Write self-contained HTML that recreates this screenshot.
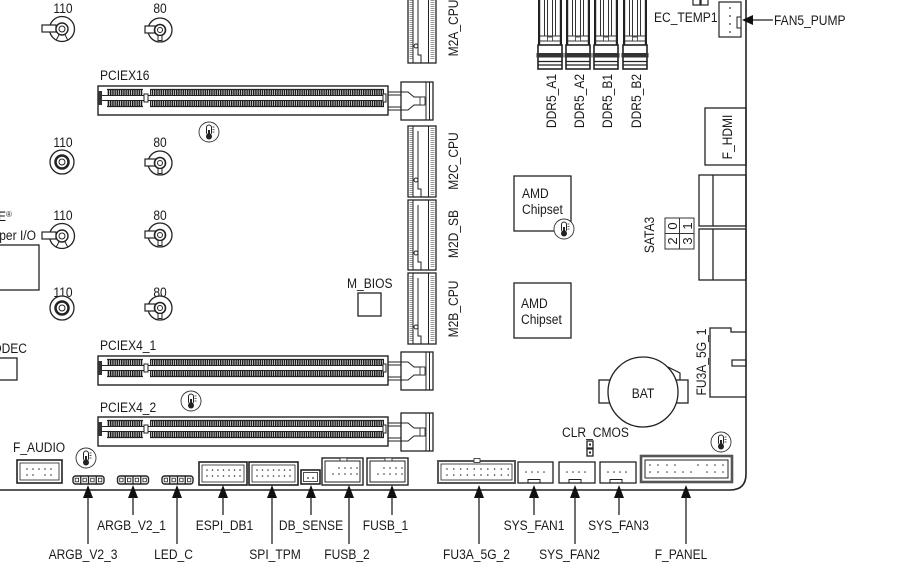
<!DOCTYPE html>
<html><head><meta charset="utf-8"><style>
html,body{margin:0;padding:0;background:#fff;}
svg{display:block}
text{font-family:"Liberation Sans",Arial,sans-serif;font-size:14px;fill:#1a1a1a}
</style></head><body>
<svg width="902" height="582" viewBox="0 0 902 582" xmlns="http://www.w3.org/2000/svg">
<defs>
<pattern id="pins" width="2.2" height="8" patternUnits="userSpaceOnUse"><rect width="1.5" height="8" fill="#1a1a1a"/></pattern>
<pattern id="mp" width="4" height="2" patternUnits="userSpaceOnUse"><rect width="4" height="1" fill="#999"/></pattern>
<g id="pcie">
 <rect x="98" y="0" width="290" height="29" fill="#fff" stroke="#222" stroke-width="1.4"/>
 <rect x="107" y="3" width="36" height="6" fill="url(#pins)"/>
 <rect x="150" y="3" width="234" height="6" fill="url(#pins)"/>
 <rect x="107" y="15" width="36" height="6" fill="url(#pins)"/>
 <rect x="150" y="15" width="234" height="6" fill="url(#pins)"/>
 <path d="M107 3.5H143 M150 3.5H384 M107 20.5H143 M150 20.5H384" stroke="#222" stroke-width="1.2"/>
 <rect x="101" y="9.5" width="284" height="5" fill="#fff" stroke="#222" stroke-width="1"/>
 <rect x="98" y="5" width="4" height="14" fill="#333"/>
 <rect x="144" y="8" width="4" height="8" fill="#fff" stroke="#222" stroke-width="1"/>
 <rect x="383" y="8" width="3" height="8" fill="#fff" stroke="#222" stroke-width="1"/>
 <path d="M388 6H408L414 11H425 M388 24H408L414 19H425 M388 9H401 M388 21H401" fill="none" stroke="#222" stroke-width="1"/>
 <rect x="420" y="11" width="5" height="8" fill="#fff" stroke="#222" stroke-width="0.8"/>
 <rect x="401" y="-4" width="32" height="38" fill="none" stroke="#222" stroke-width="1.3"/>
 <path d="M426 -4V34 M429.5 -4V34" stroke="#222" stroke-width="1"/>
</g>
<g id="sa">
 <circle r="12.5" fill="#fff" stroke="#222" stroke-width="1.3"/>
 <path d="M0 0L-6 11.5 M0 0L6 11.5" stroke="#222" fill="none" stroke-width="1"/>
 <rect x="-20" y="-4" width="14" height="7" fill="#fff" stroke="#222" stroke-width="1.2"/>
 <circle r="6" fill="#fff" stroke="#222" stroke-width="1.4"/>
 <circle r="3" fill="none" stroke="#222" stroke-width="1"/>
</g>
<g id="sb">
 <circle r="12" fill="#fff" stroke="#222" stroke-width="1.3"/>
 <rect x="-15" y="-4" width="11" height="7" fill="#fff" stroke="#222" stroke-width="1.2"/>
 <circle r="5.5" fill="#fff" stroke="#222" stroke-width="1.6"/>
 <circle r="2.5" fill="none" stroke="#222" stroke-width="1"/>
 <rect x="-2" y="5.5" width="4" height="5" fill="#fff" stroke="#222" stroke-width="1"/>
</g>
<g id="sc">
 <circle r="12" fill="#fff" stroke="#222" stroke-width="1.3"/>
 <circle r="6.5" fill="none" stroke="#222" stroke-width="2.5"/>
 <circle r="3" fill="none" stroke="#222" stroke-width="1"/>
</g>
<g id="th">
 <circle r="10" fill="#fff" stroke="#333" stroke-width="0.9"/>
 <rect x="-2.5" y="-7" width="5" height="10" rx="2.5" fill="#fff" stroke="#222" stroke-width="1"/>
 <rect x="-1" y="-2" width="2" height="6" fill="#222"/>
 <circle cy="4.5" r="3" fill="#222"/>
 <path d="M3.5 -5h2 M3.5 -2.5h2 M3.5 0h2" stroke="#222" stroke-width="0.8"/>
</g>
<g id="ddr">
 <rect x="0" y="-2" width="2.2" height="47" fill="#222"/>
 <rect x="21.8" y="-2" width="2.2" height="47" fill="#222"/>
 <path d="M6.5 -2V36 M9.5 -2V36 M14.5 -2V36 M17.5 -2V36" stroke="#333" stroke-width="1"/>
 <path d="M2 36H22 M2 41H22" stroke="#333" stroke-width="1"/>
 <rect x="9.5" y="37" width="5" height="4" fill="#fff" stroke="#333" stroke-width="0.8"/>
 <rect x="0" y="45" width="24" height="24" fill="#fff" stroke="#222" stroke-width="1.6"/>
 <rect x="-1.5" y="53" width="27" height="4.5" fill="#333"/>
 <path d="M0 61.5H24 M0 65H24" stroke="#222" stroke-width="1.2"/>
</g>
<g id="argb">
 <rect x="0" y="0" width="31" height="8" rx="2.5" fill="#fff" stroke="#222" stroke-width="1.4"/>
 <path d="M7.75 0V8 M15.5 0V8 M23.25 0V8" stroke="#222" stroke-width="1.3"/>
 <rect x="2.2" y="2.2" width="3.4" height="3.6" fill="#fff" stroke="#222" stroke-width="0.8"/>
 <rect x="9.95" y="2.2" width="3.4" height="3.6" fill="#fff" stroke="#222" stroke-width="0.8"/>
 <rect x="17.7" y="2.2" width="3.4" height="3.6" fill="#fff" stroke="#222" stroke-width="0.8"/>
 <rect x="25.45" y="2.2" width="3.4" height="3.6" fill="#fff" stroke="#222" stroke-width="0.8"/>
</g>
</defs>

<!-- board outline -->
<path d="M746 0V474Q746 490 730 490H0" fill="none" stroke="#222" stroke-width="1.6"/>

<!-- standoffs -->
<text transform="translate(63,13) scale(0.86,1)" text-anchor="middle">110</text>
<text transform="translate(160,13) scale(0.86,1)" text-anchor="middle">80</text>
<use href="#sa" x="62" y="29"/>
<use href="#sb" x="160" y="30"/>
<text transform="translate(63,147) scale(0.86,1)" text-anchor="middle">110</text>
<text transform="translate(160,147) scale(0.86,1)" text-anchor="middle">80</text>
<use href="#sc" x="62" y="162"/>
<use href="#sb" x="160" y="163"/>
<text transform="translate(63,220) scale(0.86,1)" text-anchor="middle">110</text>
<text transform="translate(160,220) scale(0.86,1)" text-anchor="middle">80</text>
<use href="#sa" x="62" y="236"/>
<use href="#sb" x="160" y="235"/>
<text transform="translate(63,297) scale(0.86,1)" text-anchor="middle">110</text>
<text transform="translate(160,297) scale(0.86,1)" text-anchor="middle">80</text>
<use href="#sc" x="62" y="308"/>
<use href="#sb" x="160" y="308"/>

<!-- super IO / codec -->
<text transform="translate(6,221) scale(0.86,1)" text-anchor="end">ITE</text>
<text x="6" y="217" style="font-size:8px">®</text>
<text transform="translate(36,240) scale(0.86,1)" text-anchor="end">Super I/O</text>
<rect x="-2" y="245" width="41" height="45" fill="none" stroke="#222" stroke-width="1.3"/>
<text transform="translate(27,353) scale(0.86,1)" text-anchor="end">CODEC</text>
<rect x="-2" y="358" width="19" height="22" fill="none" stroke="#222" stroke-width="1.3"/>

<!-- PCIe slots -->
<text transform="translate(100,80) scale(0.86,1)">PCIEX16</text>
<use href="#pcie" y="86"/>
<text transform="translate(100,350) scale(0.86,1)">PCIEX4_1</text>
<use href="#pcie" y="356"/>
<text transform="translate(100,412) scale(0.86,1)">PCIEX4_2</text>
<use href="#pcie" y="417"/>

<!-- thermal icons -->
<use href="#th" x="209" y="132"/>
<use href="#th" x="191" y="401"/>
<use href="#th" x="86" y="458"/>
<use href="#th" x="721" y="442"/>

<!-- M.2 slots -->
<g stroke="#222" fill="none">
 <rect x="408" y="-5" width="28" height="68" stroke-width="1.3"/>
 <rect x="409.5" y="-3" width="3" height="62" fill="url(#mp)" stroke="none"/>
 <rect x="430.5" y="-3" width="4" height="62" fill="url(#mp)" stroke="none"/>
 <path d="M413 -5V63 M428.5 -5V63 M418 0V55H421V63" stroke-width="1"/>
 <circle cx="416" cy="46" r="2" stroke-width="1"/>

 <rect x="408" y="126" width="28" height="71" stroke-width="1.3"/>
 <rect x="409.5" y="128" width="3" height="67" fill="url(#mp)" stroke="none"/>
 <rect x="430.5" y="128" width="4" height="67" fill="url(#mp)" stroke="none"/>
 <path d="M413 126V197 M428.5 126V197 M418 131V189H421V197" stroke-width="1"/>
 <circle cx="416" cy="180" r="2" stroke-width="1"/>

 <rect x="408" y="200" width="28" height="70" stroke-width="1.3"/>
 <rect x="409.5" y="202" width="3" height="66" fill="url(#mp)" stroke="none"/>
 <rect x="430.5" y="202" width="4" height="66" fill="url(#mp)" stroke="none"/>
 <path d="M413 200V270 M428.5 200V270 M418 205V262H421V270" stroke-width="1"/>
 <circle cx="416" cy="253" r="2" stroke-width="1"/>

 <rect x="408" y="273" width="28" height="71" stroke-width="1.3"/>
 <rect x="409.5" y="275" width="3" height="67" fill="url(#mp)" stroke="none"/>
 <rect x="430.5" y="275" width="4" height="67" fill="url(#mp)" stroke="none"/>
 <path d="M413 273V344 M428.5 273V344 M418 278V336H421V344" stroke-width="1"/>
 <circle cx="416" cy="327" r="2" stroke-width="1"/>
</g>
<text transform="translate(458,28) rotate(-90) scale(0.86,1)" text-anchor="middle">M2A_CPU</text>
<text transform="translate(458,161) rotate(-90) scale(0.86,1)" text-anchor="middle">M2C_CPU</text>
<text transform="translate(458,234) rotate(-90) scale(0.86,1)" text-anchor="middle">M2D_SB</text>
<text transform="translate(458,309) rotate(-90) scale(0.86,1)" text-anchor="middle">M2B_CPU</text>

<!-- M_BIOS -->
<text transform="translate(347,288) scale(0.86,1)">M_BIOS</text>
<rect x="358" y="293" width="23" height="23" fill="none" stroke="#222" stroke-width="1.3"/>

<!-- DDR -->
<use href="#ddr" x="538" y="0"/>
<use href="#ddr" x="566" y="0"/>
<use href="#ddr" x="594" y="0"/>
<use href="#ddr" x="623" y="0"/>
<text transform="translate(556,101) rotate(-90) scale(0.86,1)" text-anchor="middle">DDR5_A1</text>
<text transform="translate(584,101) rotate(-90) scale(0.86,1)" text-anchor="middle">DDR5_A2</text>
<text transform="translate(612,101) rotate(-90) scale(0.86,1)" text-anchor="middle">DDR5_B1</text>
<text transform="translate(641,101) rotate(-90) scale(0.86,1)" text-anchor="middle">DDR5_B2</text>

<!-- EC_TEMP1 / FAN5_PUMP -->
<rect x="693" y="-1" width="7" height="6" fill="none" stroke="#222" stroke-width="1.2"/>
<rect x="701" y="-1" width="7" height="6" fill="none" stroke="#222" stroke-width="1.2"/>
<text transform="translate(654,22) scale(0.86,1)">EC_TEMP1</text>
<rect x="719" y="2" width="22" height="35" fill="#fff" stroke="#222" stroke-width="1.2"/>
<g fill="#333"><circle cx="730" cy="8" r="0.9"/><circle cx="730" cy="16" r="0.9"/><circle cx="730" cy="24" r="0.9"/><circle cx="730" cy="32" r="0.9"/></g>
<rect x="737" y="17" width="4" height="11" fill="#fff" stroke="#222" stroke-width="1"/>
<polygon points="742,20 753,15 753,25" fill="#111"/>
<line x1="753" y1="20" x2="773" y2="20" stroke="#222" stroke-width="1.2"/>
<text transform="translate(774,25) scale(0.86,1)">FAN5_PUMP</text>

<!-- F_HDMI -->
<rect x="705" y="108" width="41" height="57" fill="none" stroke="#222" stroke-width="1.3"/>
<text transform="translate(732,137) rotate(-90) scale(0.86,1)" text-anchor="middle">F_HDMI</text>

<!-- Chipsets -->
<rect x="514" y="176" width="57" height="55" fill="#fff" stroke="#222" stroke-width="1.3"/>
<text transform="translate(522,198) scale(0.86,1)">AMD</text>
<text transform="translate(522,214) scale(0.86,1)">Chipset</text>
<use href="#th" x="564" y="229"/>
<rect x="514" y="283" width="57" height="55" fill="#fff" stroke="#222" stroke-width="1.3"/>
<text transform="translate(521,308) scale(0.86,1)">AMD</text>
<text transform="translate(521,324) scale(0.86,1)">Chipset</text>

<!-- SATA -->
<text transform="translate(654,235) rotate(-90) scale(0.86,1)" text-anchor="middle">SATA3</text>
<rect x="665" y="218" width="29" height="31" fill="none" stroke="#333" stroke-width="1"/>
<path d="M679.5 218V249 M665 233.5H694" stroke="#333" stroke-width="1"/>
<text transform="translate(677,226) rotate(-90)" text-anchor="middle" style="font-size:13px">0</text>
<text transform="translate(692,226) rotate(-90)" text-anchor="middle" style="font-size:13px">1</text>
<text transform="translate(677,241) rotate(-90)" text-anchor="middle" style="font-size:13px">2</text>
<text transform="translate(692,241) rotate(-90)" text-anchor="middle" style="font-size:13px">3</text>
<rect x="699" y="175" width="47" height="51" fill="none" stroke="#222" stroke-width="1.3"/>
<line x1="713" y1="175" x2="713" y2="226" stroke="#222" stroke-width="1.3"/>
<rect x="699" y="229" width="47" height="51" fill="none" stroke="#222" stroke-width="1.3"/>
<line x1="713" y1="229" x2="713" y2="280" stroke="#222" stroke-width="1.3"/>

<!-- FU3A_5G_1 -->
<path d="M746 332H731V328H710V397H746" fill="none" stroke="#222" stroke-width="1.3"/>
<rect x="732" y="360" width="14" height="6" fill="none" stroke="#222" stroke-width="1.2"/>
<text transform="translate(706,362) rotate(-90) scale(0.86,1)" text-anchor="middle">FU3A_5G_1</text>

<!-- BAT -->
<rect x="599" y="380" width="12" height="23" fill="#fff" stroke="#222" stroke-width="1.3"/>
<path d="M668 367L680 373V380" fill="none" stroke="#222" stroke-width="1.2"/>
<rect x="675" y="380" width="13" height="23" fill="#fff" stroke="#222" stroke-width="1.3"/>
<circle cx="643" cy="392" r="35" fill="#fff" stroke="#222" stroke-width="1.3"/>
<text transform="translate(643,398) scale(0.86,1)" text-anchor="middle">BAT</text>

<!-- CLR_CMOS -->
<text transform="translate(562,437) scale(0.86,1)">CLR_CMOS</text>
<rect x="587" y="441" width="6" height="7" fill="#fff" stroke="#222" stroke-width="1.3"/>
<rect x="587" y="449" width="6" height="7" fill="#fff" stroke="#222" stroke-width="1.3"/>
<rect x="589" y="443.5" width="2" height="2" fill="#222"/>
<rect x="589" y="451.5" width="2" height="2" fill="#222"/>

<!-- Bottom headers -->
<text transform="translate(13,452) scale(0.86,1)">F_AUDIO</text>
<rect x="17" y="460" width="45" height="23" fill="#fff" stroke="#222" stroke-width="1.6"/>
<rect x="20" y="463" width="39" height="17" fill="none" stroke="#222" stroke-width="0.8"/>
<g fill="#333">
 <circle cx="27" cy="469" r="0.8"/><circle cx="33" cy="469" r="0.8"/><circle cx="39" cy="469" r="0.8"/><circle cx="45" cy="469" r="0.8"/><circle cx="51" cy="469" r="0.8"/>
 <circle cx="27" cy="475" r="0.8"/><circle cx="33" cy="475" r="0.8"/><circle cx="45" cy="475" r="0.8"/><circle cx="51" cy="475" r="0.8"/>
</g>

<use href="#argb" x="73" y="476"/>
<use href="#argb" x="117.5" y="476"/>
<use href="#argb" x="162" y="476"/>

<!-- ESPI_DB1 -->
<rect x="199" y="462" width="48" height="23" fill="#fff" stroke="#222" stroke-width="1.6"/>
<rect x="202" y="465" width="42" height="17" fill="none" stroke="#222" stroke-width="0.8"/>
<!-- SPI_TPM -->
<rect x="249" y="462" width="49" height="23" fill="#fff" stroke="#222" stroke-width="1.6"/>
<rect x="252" y="465" width="43" height="17" fill="none" stroke="#222" stroke-width="0.8"/>
<g fill="#333">
 <circle cx="207" cy="470" r="0.8"/><circle cx="212.5" cy="470" r="0.8"/><circle cx="218" cy="470" r="0.8"/><circle cx="223.5" cy="470" r="0.8"/><circle cx="229" cy="470" r="0.8"/><circle cx="234.5" cy="470" r="0.8"/><circle cx="240" cy="470" r="0.8"/>
 <circle cx="207" cy="476" r="0.8"/><circle cx="212.5" cy="476" r="0.8"/><circle cx="218" cy="476" r="0.8"/><circle cx="223.5" cy="476" r="0.8"/><circle cx="229" cy="476" r="0.8"/><circle cx="234.5" cy="476" r="0.8"/><circle cx="240" cy="476" r="0.8"/>
 <circle cx="257" cy="470" r="0.8"/><circle cx="262.5" cy="470" r="0.8"/><circle cx="268" cy="470" r="0.8"/><circle cx="273.5" cy="470" r="0.8"/><circle cx="279" cy="470" r="0.8"/><circle cx="284.5" cy="470" r="0.8"/><circle cx="290" cy="470" r="0.8"/>
 <circle cx="257" cy="476" r="0.8"/><circle cx="262.5" cy="476" r="0.8"/><circle cx="268" cy="476" r="0.8"/><circle cx="273.5" cy="476" r="0.8"/><circle cx="279" cy="476" r="0.8"/><circle cx="284.5" cy="476" r="0.8"/><circle cx="290" cy="476" r="0.8"/>
</g>
<!-- DB_SENSE -->
<rect x="301" y="470" width="19" height="14" fill="#fff" stroke="#222" stroke-width="1.6"/>
<rect x="303.5" y="472.5" width="14" height="9" fill="none" stroke="#222" stroke-width="0.8"/>
<circle cx="308" cy="478" r="0.9" fill="#333"/><circle cx="313" cy="478" r="0.9" fill="#333"/>
<!-- FUSB_2 / FUSB_1 -->
<rect x="322" y="458" width="41" height="27" fill="#fff" stroke="#222" stroke-width="1.4"/>
<rect x="325" y="461" width="35" height="21" fill="none" stroke="#222" stroke-width="1"/>
<rect x="340" y="458" width="7" height="3" fill="#fff" stroke="#222" stroke-width="0.8"/>
<rect x="367" y="458" width="41" height="27" fill="#fff" stroke="#222" stroke-width="1.4"/>
<rect x="370" y="461" width="35" height="21" fill="none" stroke="#222" stroke-width="1"/>
<rect x="385" y="458" width="7" height="3" fill="#fff" stroke="#222" stroke-width="0.8"/>
<g fill="#333">
 <circle cx="339" cy="468" r="0.8"/><circle cx="345" cy="468" r="0.8"/><circle cx="351" cy="468" r="0.8"/><circle cx="357" cy="468" r="0.8"/>
 <circle cx="333" cy="474" r="0.8"/><circle cx="339" cy="474" r="0.8"/><circle cx="345" cy="474" r="0.8"/><circle cx="351" cy="474" r="0.8"/><circle cx="357" cy="474" r="0.8"/>
 <circle cx="384" cy="468" r="0.8"/><circle cx="390" cy="468" r="0.8"/><circle cx="396" cy="468" r="0.8"/><circle cx="402" cy="468" r="0.8"/>
 <circle cx="378" cy="474" r="0.8"/><circle cx="384" cy="474" r="0.8"/><circle cx="390" cy="474" r="0.8"/><circle cx="396" cy="474" r="0.8"/><circle cx="402" cy="474" r="0.8"/>
</g>
<!-- FU3A_5G_2 -->
<rect x="438" y="461" width="77" height="22" fill="#fff" stroke="#555" stroke-width="2"/>
<rect x="441" y="464" width="71" height="16" fill="none" stroke="#222" stroke-width="0.8"/>
<rect x="474" y="458.5" width="6" height="4" fill="#fff" stroke="#222" stroke-width="0.8"/>
<g fill="#333">
 <circle cx="447" cy="469" r="0.8"/><circle cx="453.8" cy="469" r="0.8"/><circle cx="460.6" cy="469" r="0.8"/><circle cx="467.4" cy="469" r="0.8"/><circle cx="474.2" cy="469" r="0.8"/><circle cx="481" cy="469" r="0.8"/><circle cx="487.8" cy="469" r="0.8"/><circle cx="494.6" cy="469" r="0.8"/><circle cx="501.4" cy="469" r="0.8"/><circle cx="508.2" cy="469" r="0.8"/>
 <circle cx="447" cy="475" r="0.8"/><circle cx="453.8" cy="475" r="0.8"/><circle cx="460.6" cy="475" r="0.8"/><circle cx="467.4" cy="475" r="0.8"/><circle cx="474.2" cy="475" r="0.8"/><circle cx="481" cy="475" r="0.8"/><circle cx="487.8" cy="475" r="0.8"/><circle cx="494.6" cy="475" r="0.8"/><circle cx="501.4" cy="475" r="0.8"/><circle cx="508.2" cy="475" r="0.8"/>
</g>
<!-- SYS_FANs -->
<g fill="#fff" stroke="#222" stroke-width="1.3">
 <rect x="518" y="462" width="35" height="21"/>
 <rect x="559" y="462" width="36" height="21"/>
 <rect x="600" y="462" width="36" height="21"/>
</g>
<g fill="none" stroke="#222" stroke-width="1">
 <rect x="528" y="479.5" width="12" height="3.5"/>
 <rect x="569" y="479.5" width="12" height="3.5"/>
 <rect x="610" y="479.5" width="12" height="3.5"/>
</g>
<g fill="#333">
 <circle cx="526" cy="472" r="0.8"/><circle cx="532" cy="472" r="0.8"/><circle cx="538" cy="472" r="0.8"/><circle cx="544" cy="472" r="0.8"/>
 <circle cx="567" cy="472" r="0.8"/><circle cx="573" cy="472" r="0.8"/><circle cx="579" cy="472" r="0.8"/><circle cx="585" cy="472" r="0.8"/>
 <circle cx="608" cy="472" r="0.8"/><circle cx="614" cy="472" r="0.8"/><circle cx="620" cy="472" r="0.8"/><circle cx="626" cy="472" r="0.8"/>
</g>
<!-- F_PANEL -->
<rect x="641" y="456" width="91" height="26" fill="#fff" stroke="#555" stroke-width="2.6"/>
<rect x="645" y="460" width="83" height="18" fill="none" stroke="#222" stroke-width="1"/>
<g fill="#333">
 <circle cx="650" cy="465" r="0.8"/><circle cx="658" cy="465" r="0.8"/><circle cx="667" cy="465" r="0.8"/><circle cx="675" cy="465" r="0.8"/>
 <circle cx="698" cy="465" r="0.8"/><circle cx="707" cy="465" r="0.8"/><circle cx="715" cy="465" r="0.8"/><circle cx="723" cy="465" r="0.8"/>
 <circle cx="650" cy="472" r="0.8"/><circle cx="658" cy="472" r="0.8"/><circle cx="667" cy="472" r="0.8"/><circle cx="675" cy="472" r="0.8"/><circle cx="683" cy="472" r="0.8"/><circle cx="691" cy="472" r="0.8"/>
 <circle cx="707" cy="472" r="0.8"/><circle cx="715" cy="472" r="0.8"/><circle cx="723" cy="472" r="0.8"/>
</g>

<!-- Callout arrows -->
<g fill="#111">
 <polygon points="88,485 83,498 93,498"/>
 <polygon points="133,485 128,498 138,498"/>
 <polygon points="177,485 172,498 182,498"/>
 <polygon points="223,485 218,498 228,498"/>
 <polygon points="272,485 267,498 277,498"/>
 <polygon points="311,485 306,498 316,498"/>
 <polygon points="349,485 344,498 354,498"/>
 <polygon points="392,485 387,498 397,498"/>
 <polygon points="479,485 474,498 484,498"/>
 <polygon points="534,485 529,498 539,498"/>
 <polygon points="575,485 570,498 580,498"/>
 <polygon points="619,485 614,498 624,498"/>
 <polygon points="686,485 681,498 691,498"/>
</g>
<g stroke="#222" stroke-width="1.3">
 <line x1="88" y1="497" x2="88" y2="544"/>
 <line x1="133" y1="497" x2="133" y2="515"/>
 <line x1="177" y1="497" x2="177" y2="544"/>
 <line x1="223" y1="497" x2="223" y2="515"/>
 <line x1="272" y1="497" x2="272" y2="544"/>
 <line x1="311" y1="497" x2="311" y2="515"/>
 <line x1="349" y1="497" x2="349" y2="544"/>
 <line x1="392" y1="497" x2="392" y2="515"/>
 <line x1="479" y1="497" x2="479" y2="544"/>
 <line x1="534" y1="497" x2="534" y2="515"/>
 <line x1="575" y1="497" x2="575" y2="544"/>
 <line x1="619" y1="497" x2="619" y2="515"/>
 <line x1="686" y1="497" x2="686" y2="544"/>
</g>
<!-- row 1 labels -->
<text transform="translate(131.5,530) scale(0.86,1)" text-anchor="middle">ARGB_V2_1</text>
<text transform="translate(224.5,530) scale(0.86,1)" text-anchor="middle">ESPI_DB1</text>
<text transform="translate(311,530) scale(0.86,1)" text-anchor="middle">DB_SENSE</text>
<text transform="translate(385.5,530) scale(0.86,1)" text-anchor="middle">FUSB_1</text>
<text transform="translate(534,530) scale(0.86,1)" text-anchor="middle">SYS_FAN1</text>
<text transform="translate(618.5,530) scale(0.86,1)" text-anchor="middle">SYS_FAN3</text>
<!-- row 2 labels -->
<text transform="translate(83,559) scale(0.86,1)" text-anchor="middle">ARGB_V2_3</text>
<text transform="translate(173.5,559) scale(0.86,1)" text-anchor="middle">LED_C</text>
<text transform="translate(275,559) scale(0.86,1)" text-anchor="middle">SPI_TPM</text>
<text transform="translate(347,559) scale(0.86,1)" text-anchor="middle">FUSB_2</text>
<text transform="translate(476.5,559) scale(0.86,1)" text-anchor="middle">FU3A_5G_2</text>
<text transform="translate(569.5,559) scale(0.86,1)" text-anchor="middle">SYS_FAN2</text>
<text transform="translate(681,559) scale(0.86,1)" text-anchor="middle">F_PANEL</text>
</svg>
</body></html>
